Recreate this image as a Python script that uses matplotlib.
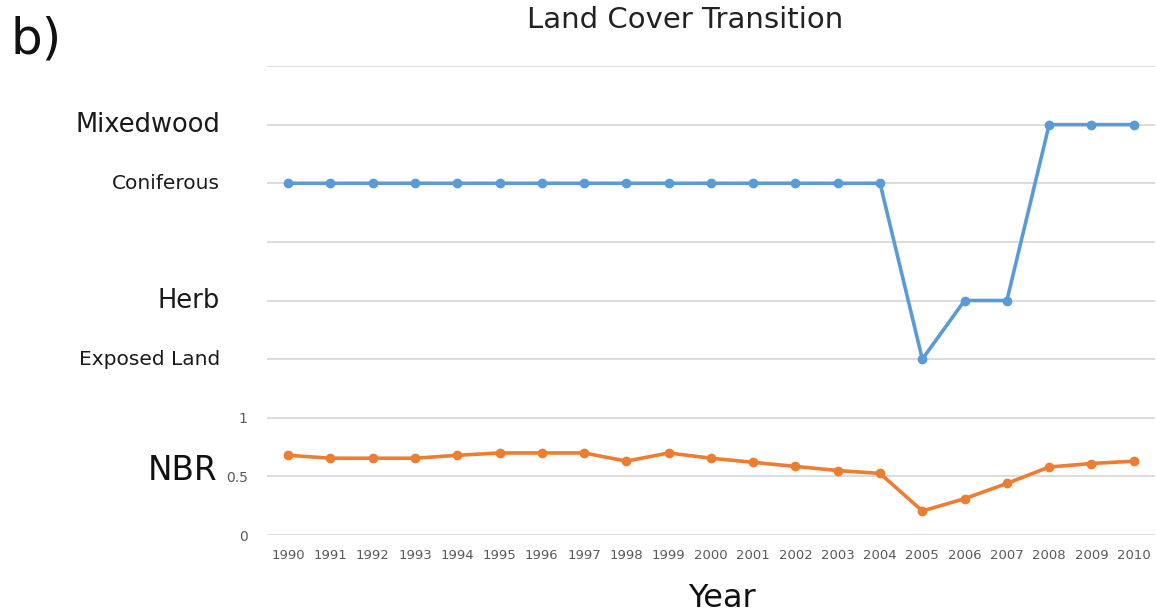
import matplotlib
matplotlib.use("Agg")
import matplotlib.pyplot as plt

# --- data -------------------------------------------------------------
years = [str(y) for y in range(1990, 2011)]

cover_levels = {"Exposed Land": 1.5, "Herb": 2.0, "Coniferous": 3.0, "Mixedwood": 3.5}
cover_label_sizes = {"Exposed Land": 14.5, "Herb": 18.5, "Coniferous": 14.5, "Mixedwood": 18.5}

land_cover = ["Coniferous"] * 15 + ["Exposed Land", "Herb", "Herb",
                                    "Mixedwood", "Mixedwood", "Mixedwood"]

nbr = [0.68, 0.655, 0.655, 0.655, 0.68, 0.70, 0.70, 0.70, 0.63, 0.70,
       0.655, 0.62, 0.585, 0.55, 0.525, 0.205, 0.31, 0.44, 0.58, 0.61, 0.63]

nbr_ticks = [0, 0.5, 1]
grid_levels = [0, 0.5, 1, 1.5, 2, 2.5, 3, 3.5, 4]

# --- figure -----------------------------------------------------------
fig = plt.figure(figsize=(11.56, 6.13), dpi=100)
ax = fig.add_axes([0.231, 0.1272, 0.768, 0.7651])

x = list(range(len(years)))
cover_y = [cover_levels[c] for c in land_cover]

ax.plot(x, cover_y, color="#5b9bd5", lw=2.6, marker="o", ms=6, zorder=3)
ax.plot(x, nbr, color="#ed7d31", lw=2.6, marker="o", ms=6, zorder=3)

for g in grid_levels:
    ax.axhline(g, color="#d9d9d9", lw=1.3, zorder=1)

ax.set_xlim(-0.5, len(years) - 0.5)
ax.set_ylim(0, 4)
ax.set_xticks(x)
ax.set_xticklabels(years, fontsize=9.5, color="#595959")
ax.tick_params(axis="x", length=0, pad=10)
ax.set_yticks(nbr_ticks)
ax.set_yticklabels(["0", "0.5", "1"], fontsize=10, color="#595959")
ax.tick_params(axis="y", length=0, pad=14)
for s in ax.spines.values():
    s.set_visible(False)

# land-cover category names on the left
for name, lvl in cover_levels.items():
    ax.annotate(name, xy=(0, lvl), xycoords=("axes fraction", "data"),
                xytext=(-47, 0), textcoords="offset pixels",
                ha="right", va="center", fontsize=cover_label_sizes[name],
                color="#1a1a1a")

ax.annotate("NBR", xy=(0, 0.55), xycoords=("axes fraction", "data"),
            xytext=(-50, 0), textcoords="offset pixels",
            ha="right", va="center", fontsize=23.5, color="#111111")

fig.text(0.5925, 0.967, "Land Cover Transition", ha="center", va="center",
         fontsize=21, color="#222222")
fig.text(0.625, 0.024, "Year", ha="center", va="center",
         fontsize=23, color="#111111")
fig.text(0.009, 0.935, "b)", ha="left", va="center", fontsize=36,
         color="#111111")

fig.savefig("out.png", dpi=100)
